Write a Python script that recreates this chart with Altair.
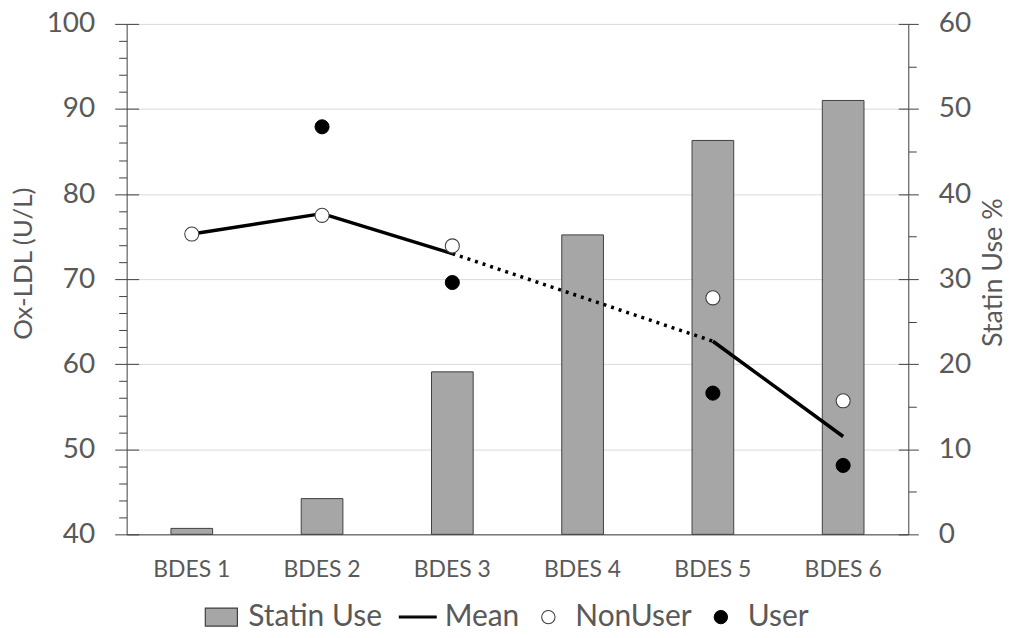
import altair as alt
import pandas as pd

# ---- data ----
categories = ["BDES 1", "BDES 2", "BDES 3", "BDES 4", "BDES 5", "BDES 6"]
statin_use = [0.7, 4.2, 19.1, 35.2, 46.3, 51.0]          # right axis, %
mean_ox = [75.3, 77.7, 73.0, None, 62.7, 51.5]           # left axis, U/L
nonuser_ox = [75.3, 77.5, 73.9, None, 67.8, 55.7]
user_ox = [None, 87.9, 69.6, None, 56.6, 48.1]
legend_labels = ["Statin Use", "Mean", "NonUser", "User"]

FONT = "Lato"
TXT = "#595959"
AX = "#404040"

bar_df = pd.DataFrame({"cat": categories, "statin": statin_use})

solid_rows, dotted_rows = [], []
prev = None
seg = 0
for i, v in enumerate(mean_ox):
    if v is None:
        continue
    if prev is not None:
        rows = solid_rows if i - prev == 1 else dotted_rows
        rows.append({"cat": categories[prev], "val": mean_ox[prev], "seg": seg})
        rows.append({"cat": categories[i], "val": v, "seg": seg})
        seg += 1
    prev = i
solid_df = pd.DataFrame(solid_rows)
dotted_df = pd.DataFrame(dotted_rows)

pt_rows = []
for name, vals in (("NonUser", nonuser_ox), ("User", user_ox)):
    for c, v in zip(categories, vals):
        if v is not None:
            pt_rows.append({"cat": c, "val": v, "series": name})
pt_df = pd.DataFrame(pt_rows)

x_enc = alt.X(
    "cat:N", sort=categories,
    scale=alt.Scale(paddingInner=0.68, paddingOuter=0.34),
    axis=alt.Axis(title=None, ticks=False, labelAngle=0, labelFont=FONT,
                  labelFontSize=23, labelColor=TXT, labelPadding=24,
                  domainColor=AX, domainWidth=1, grid=False),
)

major10 = "datum.value % 10 === 0"

# ---- right axis: statin use bars ----
right_scale = alt.Scale(domain=[0, 60], nice=False, zero=True)
bars = alt.Chart(bar_df).mark_bar(
    color="#a6a6a6", stroke=AX, strokeWidth=1
).encode(
    x=x_enc,
    y=alt.Y("statin:Q", scale=right_scale,
            axis=alt.Axis(orient="right", values=list(range(0, 61, 5)),
                          labelExpr=f"{major10} ? datum.label : ''",
                          tickSize={"condition": {"test": major10, "value": 10}, "value": 8},
                          tickColor=AX, domainColor=AX,
                          labelFont=FONT, labelFontSize=28, labelColor=TXT,
                          labelPadding=20,
                          grid=True, gridColor="#d9d9d9",
                          gridOpacity={"condition": {"test": major10, "value": 1}, "value": 0},
                          title="Statin Use %", titleFont=FONT, titleFontSize=27,
                          titleFontWeight="normal", titleColor=TXT,
                          titleAngle=270, titleX=85, titleY=249,
                          titleAlign="center", titleBaseline="middle")),
)
bars_inner = alt.Chart(bar_df).mark_bar(opacity=0).encode(
    x=x_enc,
    y=alt.Y("statin:Q", scale=right_scale,
            axis=alt.Axis(orient="right", offset=-10, values=list(range(0, 61, 10)),
                          labels=False, domain=False, grid=False, tickSize=10,
                          tickColor=AX, title=None)),
)
right_group = alt.layer(bars, bars_inner).resolve_axis(y="independent")

# ---- left axis: Ox-LDL ----
left_scale = alt.Scale(domain=[40, 100], nice=False, zero=False)
left_axis = alt.Axis(orient="left", values=list(range(40, 101, 2)),
                     labelExpr=f"{major10} ? datum.label : ''",
                     tickSize={"condition": {"test": major10, "value": 12}, "value": 8},
                     tickColor=AX, domainColor=AX,
                     labelFont=FONT, labelFontSize=28, labelColor=TXT, labelPadding=20,
                     grid=False,
                     title="Ox-LDL (U/L)", titleFont=FONT, titleFontSize=26,
                     titleFontWeight="normal", titleColor=TXT, titlePadding=10,
                     titleY=240)

line_solid = alt.Chart(solid_df).mark_line(
    color="black", strokeWidth=3.5, strokeCap="butt"
).encode(x=x_enc, y=alt.Y("val:Q", scale=left_scale, axis=left_axis), detail="seg:N")

line_dot = alt.Chart(dotted_df).mark_line(
    color="black", strokeWidth=3.5, strokeDash=[3, 5], strokeCap="butt"
).encode(x=x_enc, y=alt.Y("val:Q", scale=left_scale, axis=None), detail="seg:N")

leg = alt.Legend(orient="none", legendX=80, legendY=580, direction="horizontal",
                 title=None, labelFont=FONT, labelFontSize=30, labelColor=TXT,
                 symbolSize=180, labelOffset=12, columnPadding=14, gridAlign="none")

points = alt.Chart(pt_df).mark_point(filled=True, size=200, opacity=1).encode(
    x=x_enc,
    y=alt.Y("val:Q", scale=left_scale, axis=None),
    shape=alt.Shape("series:N", scale=alt.Scale(
        domain=legend_labels,
        range=["M-2.4,-1.35H2.4V1.35H-2.4Z", "M-2.75,-0.14H2.75V0.14H-2.75Z",
               "circle", "circle"]), legend=leg),
    fill=alt.Fill("series:N", scale=alt.Scale(
        domain=legend_labels, range=["#a6a6a6", "black", "white", "black"]), legend=leg),
    stroke=alt.Stroke("series:N", scale=alt.Scale(
        domain=legend_labels, range=[AX, "black", AX, "black"]), legend=leg),
    strokeWidth=alt.StrokeWidth("series:N", scale=alt.Scale(
        domain=legend_labels, range=[1.2, 1, 1.2, 1]), legend=leg),
)

left_inner = alt.Chart(pt_df).mark_point(opacity=0).encode(
    x=x_enc,
    y=alt.Y("val:Q", scale=left_scale,
            axis=alt.Axis(orient="left", offset=-12, values=list(range(40, 101, 10)),
                          labels=False, domain=False, grid=False, tickSize=12,
                          tickColor=AX, title=None)),
)

left_group = alt.layer(line_solid, line_dot, points, left_inner).resolve_axis(y="independent")

chart = alt.layer(right_group, left_group).resolve_scale(y="independent").properties(
    width=784, height=512,
    padding={"left": 119, "top": 15, "right": 96, "bottom": 95},
    autosize=alt.AutoSizeParams(type="none"),
).configure(font=FONT).configure_view(stroke=None)

chart.save("out.html", embed_options={"renderer": "svg", "actions": False})
